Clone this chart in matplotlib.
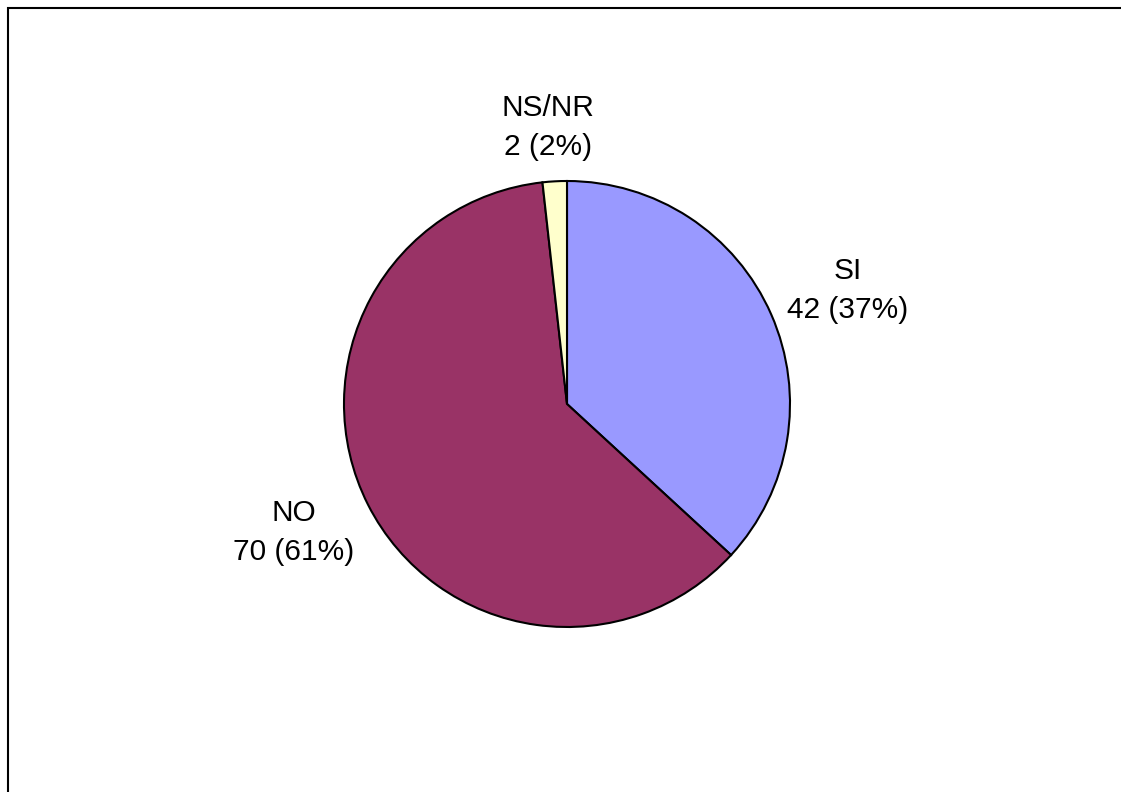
import matplotlib.pyplot as plt
from matplotlib.patches import Rectangle

labels = ['SI', 'NO', 'NS/NR']
counts = [42, 70, 2]
colors = ['#9999FF', '#993366', '#FFFFCC']
# label positions in radius units (relative to pie centre)
label_pos = [(1.26, 0.51), (-1.224, -0.574), (-0.085, 1.24)]

W, H = 1121, 792
fig = plt.figure(figsize=(W / 100, H / 100), dpi=100)
plt.rcParams['font.family'] = ['Liberation Sans', 'DejaVu Sans']

# outer frame (top and left visible, rest cut off by the image edge)
fig.patches.append(Rectangle((8 / W, -0.05), 1.2, (H - 7.5) / H + 0.05,
                             transform=fig.transFigure, fill=False,
                             edgecolor='black', linewidth=1.5))

cx, cy, r = 567, 404, 223
ax = fig.add_axes([(cx - r) / W, (H - cy - r) / H, 2 * r / W, 2 * r / H])
ax.pie(counts, colors=colors, startangle=90, counterclock=False, radius=1,
       wedgeprops=dict(edgecolor='black', linewidth=1.5))
ax.set_xlim(-1, 1)
ax.set_ylim(-1, 1)
ax.set_aspect('equal')

total = sum(counts)
for lab, n, (x, y) in zip(labels, counts, label_pos):
    ax.text(x, y, f"{lab}\n{n} ({round(100 * n / total)}%)", ha='center',
            va='center', fontsize=21.5, linespacing=1.5, clip_on=False)

fig.savefig('out.png', dpi=100)
